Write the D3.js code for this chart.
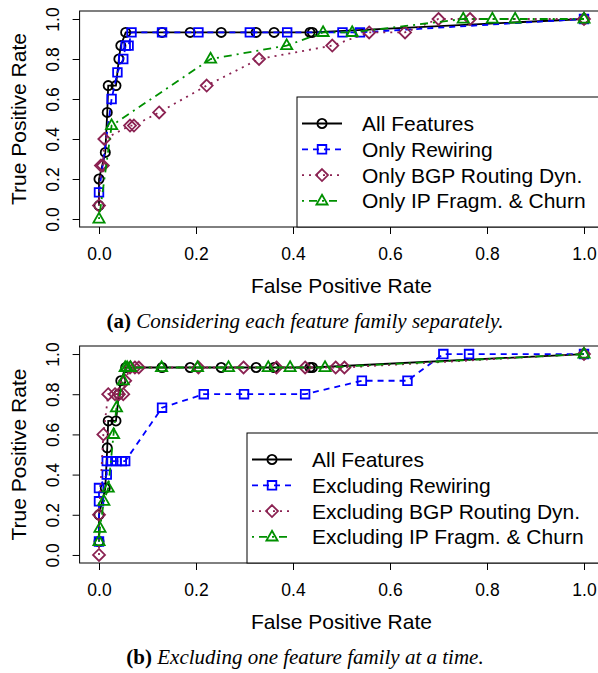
<!DOCTYPE html>
<html>
<head>
<meta charset="utf-8">
<script src="https://cdn.jsdelivr.net/npm/d3@7"></script>
<style>
    body { margin: 0; background: #fff; }
    svg { display: block; }
    .tick text { font-family: "Liberation Sans", Arial, sans-serif; font-size: 17.5px; fill: #000; }
    .tick line { stroke: #000; }
    .title { font-family: "Liberation Sans", Arial, sans-serif; font-size: 21px; fill: #000; }
    .legendText { font-family: "Liberation Sans", Arial, sans-serif; font-size: 21px; fill: #000; }
    .caption { font-family: "Liberation Serif", "Times New Roman", serif; font-size: 21px; fill: #000; }
</style>
</head>
<body>
<svg id="chart" width="598" height="673"></svg>
<script>
// values
var tickValues = [0, 0.2, 0.4, 0.6, 0.8, 1.0];

// shared "All Features" curve (same classifier in both panels)
var allFeatFpr = [0, 0, 0.013, 0.017, 0.019, 0.035, 0.041, 0.045, 0.055, 0.13, 0.188, 0.252, 0.324, 0.361, 0.435, 0.44, 1.0];
var allFeatTpr = [0.067, 0.2, 0.333, 0.533, 0.667, 0.667, 0.8, 0.867, 0.933, 0.933, 0.933, 0.933, 0.933, 0.933, 0.933, 0.933, 1.0];

// panel (a)
var onlyRewFpr = [0, 0.026, 0.038, 0.05, 0.055, 0.061, 0.067, 0.13, 0.205, 0.311, 0.388, 0.502, 0.538, 1.0];
var onlyRewTpr = [0.133, 0.6, 0.733, 0.8, 0.867, 0.867, 0.933, 0.933, 0.933, 0.933, 0.933, 0.933, 0.933, 1.0];
var onlyBgpFpr = [0, 0.004, 0.008, 0.011, 0.064, 0.072, 0.124, 0.222, 0.33, 0.481, 0.557, 0.631, 0.70, 0.765, 1.0];
var onlyBgpTpr = [0.067, 0.267, 0.267, 0.4, 0.467, 0.467, 0.533, 0.667, 0.8, 0.867, 0.933, 0.933, 1.0, 1.0, 1.0];
var onlyIpFpr = [0, 0.026, 0.23, 0.387, 0.462, 0.522, 0.751, 0.811, 0.858, 1.0];
var onlyIpTpr = [0, 0.467, 0.8, 0.867, 0.933, 0.933, 1.0, 1.0, 1.0, 1.0];

// panel (b)
var exRewFpr = [0, 0, 0, 0.016, 0.016, 0.026, 0.036, 0.047, 0.054, 0.13, 0.216, 0.299, 0.425, 0.542, 0.636, 0.71, 0.763, 1.0];
var exRewTpr = [0.067, 0.267, 0.333, 0.4, 0.467, 0.467, 0.467, 0.467, 0.467, 0.733, 0.8, 0.8, 0.8, 0.867, 0.867, 1.0, 1.0, 1.0];
var exBgpFpr = [0, 0, 0.009, 0.019, 0.033, 0.041, 0.05, 0.054, 0.064, 0.074, 0.082, 0.205, 0.298, 0.366, 0.425, 0.488, 0.506, 1.0];
var exBgpTpr = [0, 0.2, 0.6, 0.8, 0.8, 0.8, 0.8, 0.867, 0.933, 0.933, 0.933, 0.933, 0.933, 0.933, 0.933, 0.933, 0.933, 1.0];
var exIpFpr = [0, 0.002, 0.01, 0.019, 0.03, 0.036, 0.05, 0.054, 0.058, 0.065, 0.129, 0.203, 0.267, 0.349, 0.394, 0.466, 1.0];
var exIpTpr = [0.067, 0.133, 0.267, 0.333, 0.6, 0.733, 0.867, 0.933, 0.933, 0.933, 0.933, 0.933, 0.933, 0.933, 0.933, 0.933, 1.0];

var labelsA = ["All Features", "Only Rewiring", "Only BGP Routing Dyn.", "Only IP Fragm. & Churn"];
var labelsB = ["All Features", "Excluding Rewiring", "Excluding BGP Routing Dyn.", "Excluding IP Fragm. & Churn"];

var seriesStyles = [
    {color: "#000000", dash: null, shape: "circle"},
    {color: "#0000ff", dash: "6,5", shape: "square"},
    {color: "#8b2252", dash: "2,5", shape: "diamond"},
    {color: "#009000", dash: "2,5,8,5", shape: "triangle"}
];

function zipSeries(fpr, tpr) {
    return fpr.map((f, i) => ({fpr: f, tpr: tpr[i]}));
}

function symbolPath(shape) {
    if (shape === "circle")
        return "M4.6,0A4.6,4.6 0 1,1 -4.6,0A4.6,4.6 0 1,1 4.6,0Z";
    if (shape === "square")
        return "M-4.3,-4.3H4.3V4.3H-4.3Z";
    if (shape === "diamond")
        return "M0,-6L6,0L0,6L-6,0Z";
    return "M0,-6.2L5.6,3.6H-5.6Z";
}

var svg = d3.select("#chart");

function drawPanel(cfg) {
    var x = d3.scaleLinear().domain([-0.04, 1.04]).range([79.6, 603.4]);
    var y = d3.scaleLinear().domain([-0.04, 1.04]).range([cfg.bottom, cfg.top]);

    var g = svg.append("g").attr("class", "panel");

    // axes
    var xAxis = g.append("g")
        .attr("transform", "translate(0," + cfg.bottom + ")")
        .call(d3.axisBottom(x).tickValues(tickValues).tickSize(7).tickSizeOuter(0).tickFormat(d3.format(".1f")));
    xAxis.select(".domain").remove();
    xAxis.selectAll(".tick text").attr("y", 27).attr("dy", "0.35em");

    var yAxis = g.append("g")
        .attr("transform", "translate(79.6,0)")
        .call(d3.axisLeft(y).tickValues(tickValues).tickSize(7).tickSizeOuter(0).tickFormat(d3.format(".1f")));
    yAxis.select(".domain").remove();
    yAxis.selectAll(".tick text")
        .attr("x", null)
        .attr("dy", null)
        .attr("text-anchor", "middle")
        .attr("dominant-baseline", "central")
        .attr("transform", "translate(-27,0) rotate(-90)");

    // axis titles
    g.append("text")
        .attr("class", "title")
        .attr("text-anchor", "middle")
        .attr("x", (x(0) + x(1)) / 2)
        .attr("y", cfg.bottom + 58)
        .attr("dominant-baseline", "central")
        .text("False Positive Rate");
    g.append("text")
        .attr("class", "title")
        .attr("text-anchor", "middle")
        .attr("dominant-baseline", "central")
        .attr("transform", "translate(18," + (y(0) + y(1)) / 2 + ") rotate(-90)")
        .text("True Positive Rate");

    // curves
    var line = d3.line().x(d => x(d.fpr)).y(d => y(d.tpr));
    cfg.series.forEach((s, i) => {
        var st = seriesStyles[i];
        var sg = g.append("g").attr("class", "series");
        sg.append("path")
            .datum(s)
            .attr("d", line)
            .attr("fill", "none")
            .attr("stroke", st.color)
            .attr("stroke-width", 1.8)
            .attr("stroke-dasharray", st.dash);
        sg.selectAll(".pt")
            .data(s)
            .enter()
            .append("path")
            .attr("class", "pt")
            .attr("transform", d => "translate(" + x(d.fpr) + "," + y(d.tpr) + ")")
            .attr("d", symbolPath(st.shape))
            .attr("fill", "none")
            .attr("stroke", st.color)
            .attr("stroke-width", 1.8);
    });

    // plot box
    g.append("rect")
        .attr("x", 79.6)
        .attr("y", cfg.top)
        .attr("width", 523.8)
        .attr("height", cfg.bottom - cfg.top)
        .attr("fill", "none")
        .attr("stroke", "#000")
        .attr("stroke-width", 1);

    // legend, bottom right
    var lg = g.append("g").attr("class", "legend");
    lg.append("rect")
        .attr("x", cfg.legendX)
        .attr("y", cfg.legendTop)
        .attr("width", 603.4 - cfg.legendX)
        .attr("height", cfg.bottom - cfg.legendTop)
        .attr("fill", "#fff")
        .attr("stroke", "#000")
        .attr("stroke-width", 1);

    var items = lg.selectAll(".item")
        .data(cfg.labels)
        .enter()
        .append("g")
        .attr("class", "item")
        .attr("transform", (d, i) => "translate(" + cfg.legendX + "," + (cfg.legendTop + 26.5 + i * 25.8) + ")");
    items.append("line")
        .attr("x1", 5).attr("x2", 45)
        .attr("stroke", (d, i) => seriesStyles[i].color)
        .attr("stroke-width", 1.8)
        .attr("stroke-dasharray", (d, i) => seriesStyles[i].dash);
    items.append("path")
        .attr("transform", "translate(25,0)")
        .attr("d", (d, i) => symbolPath(seriesStyles[i].shape))
        .attr("fill", "none")
        .attr("stroke", (d, i) => seriesStyles[i].color)
        .attr("stroke-width", 1.8);
    items.append("text")
        .attr("class", "legendText")
        .attr("x", 65)
        .attr("dominant-baseline", "central")
        .text(d => d);

    // caption
    var cap = g.append("text")
        .attr("class", "caption")
        .attr("text-anchor", "middle")
        .attr("x", 305)
        .attr("y", cfg.bottom + 94)
        .attr("dominant-baseline", "central");
    cap.append("tspan").attr("font-weight", "bold").text(cfg.tag + " ");
    cap.append("tspan").attr("font-style", "italic").text(cfg.caption);
}

drawPanel({
    top: 11, bottom: 227,
    legendX: 297, legendTop: 97,
    labels: labelsA,
    tag: "(a)", caption: "Considering each feature family separately.",
    series: [zipSeries(allFeatFpr, allFeatTpr), zipSeries(onlyRewFpr, onlyRewTpr),
        zipSeries(onlyBgpFpr, onlyBgpTpr), zipSeries(onlyIpFpr, onlyIpTpr)]
});

drawPanel({
    top: 346, bottom: 563,
    legendX: 247, legendTop: 433,
    labels: labelsB,
    tag: "(b)", caption: "Excluding one feature family at a time.",
    series: [zipSeries(allFeatFpr, allFeatTpr), zipSeries(exRewFpr, exRewTpr),
        zipSeries(exBgpFpr, exBgpTpr), zipSeries(exIpFpr, exIpTpr)]
});
</script>
</body>
</html>
